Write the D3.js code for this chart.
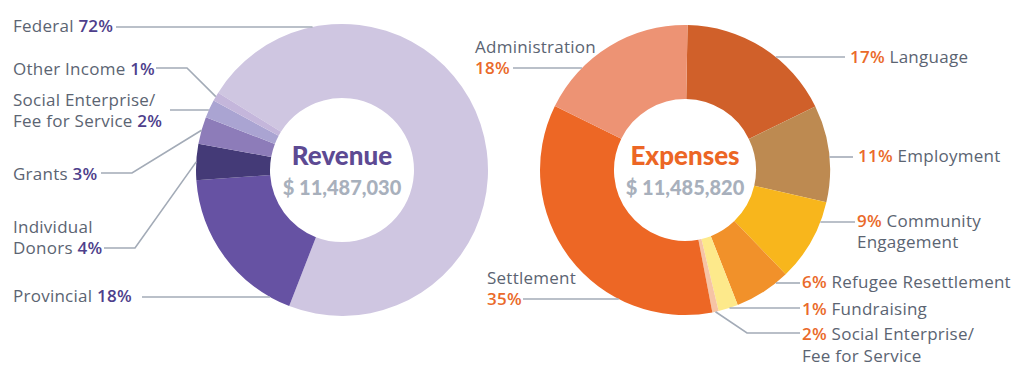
<!DOCTYPE html>
<html><head><meta charset="utf-8">
<script src="https://cdn.jsdelivr.net/npm/d3@7"></script>
<style>
html,body{margin:0;padding:0;background:#fff;}
svg{display:block;font-family:Lato, "Open Sans", sans-serif;}
</style></head>
<body><svg id="chart" width="1024" height="372"></svg>
<script>
// ---------- DATA ----------
const revenueCategories = ["Federal", "Provincial", "Individual Donors", "Grants", "Social Enterprise/Fee for Service", "Other Income"];
const revenueValues = [72, 18, 4, 3, 2, 1];
const revenueColors = ["#cfc6e1", "#6652a3", "#443a77", "#8d7cb9", "#aaa4d2", "#c4b6db"];
const revenueTotal = "$ 11,487,030";

const expenseCategories = ["Language", "Employment", "Community Engagement", "Refugee Resettlement", "Fundraising", "Social Enterprise/Fee for Service", "Settlement", "Administration"];
// slice sizes as drawn in the picture
const expenseValues = [17.5, 10.8, 9.2, 6.3, 2.2, 0.7, 35.3, 18];
const expenseLabelPct = ["17%", "11%", "9%", "6%", "1%", "2%", "35%", "18%"];
const expenseColors = ["#d0602a", "#bd8a51", "#f8b61c", "#f1912a", "#fde98b", "#f6c4a5", "#ed6725", "#ed9374"];
const expenseTotal = "$ 11,485,820";

// ---------- LAYOUT ----------
const svg = d3.select("#chart");
const R = 146, r = 72;
const rev = {cx: 342, cy: 170, start: -58 * Math.PI / 180};
const exp = {cx: 685, cy: 170, start: 1 * Math.PI / 180};
const lineColor = "#a3abb7";
const nameColor = "#5b6472";
const FS = 17;
const LFONT = "'Open Sans', Lato, sans-serif";

function donut(cfg, values, colors, outer, inner) {
  const pie = d3.pie().sort(null).startAngle(cfg.start).endAngle(cfg.start + 2 * Math.PI);
  const arcs = pie(values);
  const arc = d3.arc().innerRadius(inner).outerRadius(outer);
  const g = svg.append("g").attr("transform", `translate(${cfg.cx},${cfg.cy})`);
  g.selectAll("path").data(arcs).join("path").attr("d", arc).attr("fill", (d, i) => colors[i]);
  return arcs;
}
const revArcs = donut(rev, revenueValues, revenueColors, R, r);
const expArcs = donut(exp, expenseValues, expenseColors, 145, 71);

function edgeAtY(cfg, rad, y, side) {
  const dy = y - cfg.cy;
  const dx = Math.sqrt(Math.max(0, rad * rad - dy * dy));
  return [cfg.cx + side * dx, y];
}
function edgeAtAngle(cfg, rad, a) {
  return [cfg.cx + rad * Math.sin(a), cfg.cy - rad * Math.cos(a)];
}
const mid = d => (d.startAngle + d.endAngle) / 2;

const lines = svg.append("g").attr("fill", "none").attr("stroke", lineColor).attr("stroke-width", 1.6);
function leader(pts) {
  lines.append("path").attr("d", d3.line()(pts));
}

function label(x, y, rows, lh) {
  rows.forEach((parts, k) => {
    const t = svg.append("text").attr("x", x).attr("y", y + k * lh)
      .attr("font-size", FS).attr("font-family", LFONT).attr("letter-spacing", 0.25);
    parts.forEach(p => t.append("tspan").text(p[0]).attr("fill", p[1]).attr("font-weight", p[2] || 500));
  });
}
const purple = "#4e3f8c", orange = "#ea6a2a";

// ---- Revenue labels ----
label(13, 32, [[["Federal ", nameColor], ["72%", purple, 600]]], 21);
leader([[116, 27], edgeAtY(rev, R, 27, -1)]);

label(13, 75, [[["Other Income ", nameColor], ["1%", purple, 600]]], 21);
leader([[156, 68], [187, 68], edgeAtAngle(rev, R, mid(revArcs[5]))]);

label(13, 106, [[["Social Enterprise/", nameColor]], [["Fee for Service ", nameColor], ["2%", purple, 600]]], 21);
leader([[170, 110], edgeAtY(rev, R, 110, -1)]);

label(13, 180, [[["Grants ", nameColor], ["3%", purple, 600]]], 21);
leader([[101, 173], [132, 173], edgeAtAngle(rev, R, mid(revArcs[3]))]);

label(13, 233, [[["Individual", nameColor]], [["Donors ", nameColor], ["4%", purple, 600]]], 21);
leader([[104, 248], [135, 248], edgeAtAngle(rev, R, mid(revArcs[2]))]);

label(13, 302, [[["Provincial ", nameColor], ["18%", purple, 600]]], 21);
leader([[142, 297], edgeAtY(rev, R, 297, -1)]);

// ---- Expense labels ----
label(475, 53, [[["Administration", nameColor]], [[expenseLabelPct[7], orange, 600]]], 21);
leader([[513, 68], edgeAtY(exp, 145, 68, -1)]);

label(487, 284, [[["Settlement", nameColor]], [[expenseLabelPct[6], orange, 600]]], 21);
leader([[523, 299], edgeAtY(exp, 145, 299, -1)]);

label(850, 63, [[[expenseLabelPct[0] + " ", orange, 600], ["Language", nameColor]]], 21);
leader([edgeAtY(exp, 145, 57, 1), [845, 57]]);

label(858, 162, [[[expenseLabelPct[1] + "  ", orange, 600], ["Employment", nameColor]]], 21);
leader([edgeAtY(exp, 145, 157, 1), [853, 157]]);

label(857, 227, [[[expenseLabelPct[2] + " ", orange, 600], ["Community", nameColor]], [["Engagement", nameColor]]], 21);
leader([edgeAtY(exp, 145, 222, 1), [855, 222]]);

label(802, 288, [[[expenseLabelPct[3] + " ", orange, 600], ["Refugee Resettlement", nameColor]]], 21);
leader([edgeAtY(exp, 145, 283, 1), [800, 283]]);

label(802, 315, [[[expenseLabelPct[4] + "  ", orange, 600], ["Fundraising", nameColor]]], 21);
leader([edgeAtY(exp, 145, 308, 1), [800, 308]]);

label(802, 340, [[[expenseLabelPct[5] + " ", orange, 600], ["Social Enterprise/", nameColor]], [["Fee for Service", nameColor]]], 22);
leader([edgeAtAngle(exp, 145, mid(expArcs[5])), [747, 333], [800, 333]]);

// ---- Centre titles ----
function centre(cfg, title, color, total) {
  svg.append("text").attr("x", cfg.cx).attr("y", 165).attr("text-anchor", "middle")
    .attr("font-size", 26).attr("font-weight", 900).attr("fill", color).text(title);
  svg.append("text").attr("x", cfg.cx).attr("y", 195).attr("text-anchor", "middle")
    .attr("font-size", 20).attr("font-weight", 900).attr("fill", "#a8b0bc").text(total);
}
centre(rev, "Revenue", "#5d4a93", revenueTotal);
centre(exp, "Expenses", "#ec6625", expenseTotal);
</script></body></html>
